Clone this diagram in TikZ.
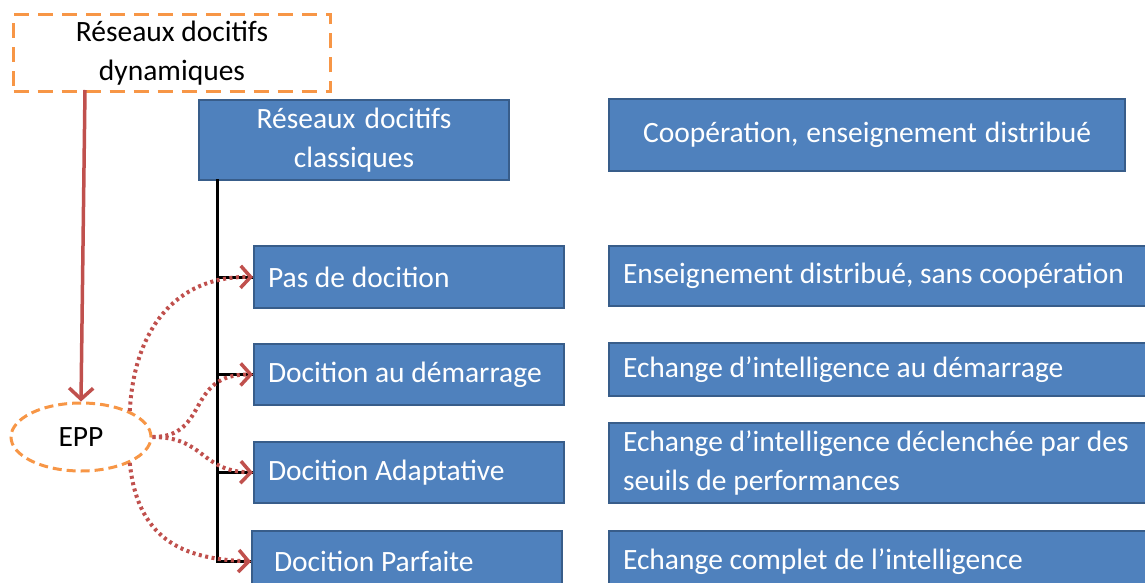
\documentclass[tikz,border=0pt]{standalone}
\usepackage{fontspec}
\setmainfont{Carlito}
\usetikzlibrary{arrows.meta,shapes.geometric}
\definecolor{bfill}{HTML}{4F81BD}
\definecolor{bdraw}{HTML}{385D8A}
\definecolor{orng}{HTML}{F79646}
\definecolor{rd}{HTML}{C0504D}
\newcommand{\natsp}{\spaceskip=0pt\xspaceskip=0pt\relax}
\tikzset{
  bluebox/.style={draw=bdraw,fill=bfill,line width=2pt,text=white,rectangle,anchor=north west,
    inner xsep=14pt,inner ysep=0pt,align=left,font=\fontsize{29.5}{39}\selectfont},
  redarrow/.style={draw=rd,line width=3.5pt,-{Straight Barb[length=11pt,width=24pt,line width=3.5pt]}},
  dotarrow/.style={draw=rd,line width=4pt,dash pattern=on 3pt off 3.5pt,
    -{Straight Barb[length=10pt,width=22pt,line width=3.5pt]}},
  treeline/.style={draw=black,line width=3pt},
}
\begin{document}
\begin{tikzpicture}[x=1pt,y=-1pt]
\useasboundingbox (0,0) rectangle (1145,583);
% dynamic box
\node[draw=orng,line width=3pt,dash pattern=on 15pt off 9pt,rectangle,anchor=north west,
  minimum width=317pt,minimum height=77pt,align=center,inner sep=0pt,
  font=\fontsize{29.5}{39}\selectfont] (dyn) at (12,13) {Réseaux docitifs\\dynamiques};
% classic box
\node[bluebox,align=center,minimum width=310pt,minimum height=80pt,text width=282pt] (classic) at (198,99) {\natsp Réseaux docitifs\\classiques};
% left column
\node[bluebox,minimum width=310pt,minimum height=62pt,text width=282pt] (pas) at (253,245) {\natsp Pas de docition};
\node[bluebox,minimum width=310pt,minimum height=61pt,text width=282pt] (dem) at (253,343) {\natsp Docition au démarrage};
\node[bluebox,minimum width=310pt,minimum height=61pt,text width=266pt,inner xsep=0pt,anchor=north east] (par) at (563,530) {\natsp Docition Parfaite};
\node[bluebox,minimum width=310pt,minimum height=61pt,text width=282pt] (ada) at (253,441) {\natsp Docition Adaptative};
% right column
\node[bluebox,align=center,minimum width=516pt,minimum height=72pt,text width=488pt] (coop) at (608,98) {\natsp Coopération, enseignement distribué};
\node[bluebox,minimum width=545pt,minimum height=60pt,text width=530pt] (ens) at (608,245) {\natsp Enseignement distribué, sans coopération};
\node[bluebox,minimum width=545pt,minimum height=53pt,text width=530pt] (ech1) at (608,342) {\natsp Echange d’intelligence au démarrage};
\node[bluebox,minimum width=545pt,minimum height=80pt,text width=530pt] (ech2) at (608,422) {\natsp Echange d’intelligence déclenchée par des\\seuils de performances};
\node[bluebox,minimum width=545pt,minimum height=61pt,text width=530pt] (ech3) at (608,530) {\natsp Echange complet de l’intelligence};
% EPP
\node[ellipse,draw=orng,line width=3pt,dash pattern=on 9pt off 5pt,fill=white,
  minimum width=140pt,minimum height=68pt,inner sep=0pt,
  font=\fontsize{29.5}{39}\selectfont] (epp) at (81,437) {EPP};
% tree
\coordinate (trunk) at (217,179);
\draw[treeline] (trunk) |- (par.west);
\draw[treeline] (trunk |- pas.west) -- (pas.west);
\draw[treeline] (trunk |- dem.west) -- (dem.west);
\draw[treeline] (trunk |- ada.west) -- (ada.west);
% red arrow
\coordinate (dynfoot) at (85,90);
\draw[redarrow] (dynfoot) -- (epp.north);
% dotted arrows
\draw[dotarrow] (epp.28) .. controls (134,330) and (175,276) .. (pas.west);
\draw[dotarrow] (epp.east) .. controls (210,437) and (185,374) .. (dem.west);
\draw[dotarrow] (epp.east) .. controls (205,437) and (200,471) .. (ada.west);
\draw[dotarrow] (epp.-28) .. controls (138,545) and (190,559) .. (par.west);
\end{tikzpicture}
\end{document}
